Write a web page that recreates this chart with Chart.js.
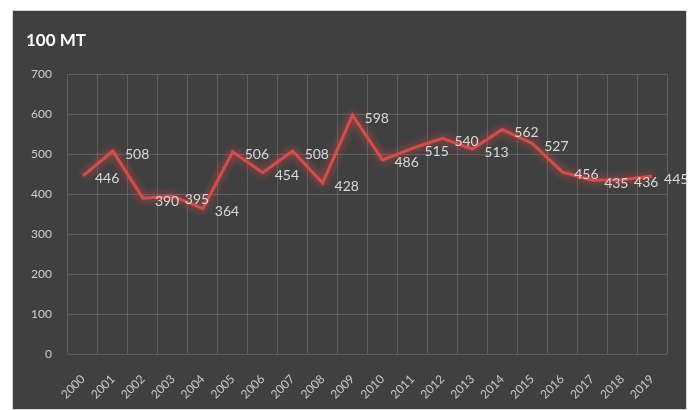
<!DOCTYPE html>
<html>
<head>
<meta charset="utf-8">
<script src="https://cdn.jsdelivr.net/npm/chart.js@4/dist/chart.umd.min.js"></script>
<style>
  body { margin: 0; background: #fff; width: 689px; height: 410px; overflow: hidden; }
  #box { position: absolute; left: 12px; top: 10px; width: 675px; height: 400px; background: #404040; border: 1px solid #d8d8d8; box-sizing: border-box; }
</style>
</head>
<body>
<div id="box"><canvas id="grafico"></canvas></div>
<script>
// dados
var anos = ["2000","2001","2002","2003","2004","2005","2006","2007","2008","2009",
            "2010","2011","2012","2013","2014","2015","2016","2017","2018","2019"];
var valores = [446, 508, 390, 395, 364, 506, 454, 508, 428, 598,
               486, 515, 540, 513, 562, 527, 456, 435, 436, 445];
var titulo = "100 MT";
var y_min = 0, y_max = 700, y_passo = 100;

// brilho vermelho na linha
var brilho = {
    id: "brilho",
    beforeDatasetsDraw: function(chart){
        var c = chart.ctx;
        c.save();
        c.shadowColor = "rgba(255,70,70,0.9)";
        c.shadowBlur = 9;
    },
    afterDatasetsDraw: function(chart){
        chart.ctx.restore();
    }
};

// rotulos dos valores, a direita de cada ponto
var rotulos = {
    id: "rotulos",
    afterDatasetsDraw: function(chart){
        var c = chart.ctx;
        var meta = chart.getDatasetMeta(0);
        c.save();
        c.font = "14px Lato";
        c.fillStyle = "#d9d9d9";
        c.textAlign = "left";
        c.textBaseline = "middle";
        meta.data.forEach(function(p, i){
            c.fillText(String(valores[i]), p.x + 12, p.y + 3);
        });
        c.restore();
    }
};

var ctx = document.getElementById("grafico").getContext("2d");
var grafico = new Chart(ctx, {
    type: "line",
    data: {
        labels: anos,
        datasets: [{
            data: valores,
            borderColor: "#cf4f4f",
            borderWidth: 3,
            pointRadius: 0,
            tension: 0,
            fill: false
        }]
    },
    options: {
        responsive: true,
        maintainAspectRatio: false,
        animation: false,
        layout: { padding: { left: 13, right: 19, top: 0, bottom: 0 } },
        plugins: {
            legend: { display: false },
            tooltip: { enabled: false },
            title: {
                display: true,
                text: titulo,
                align: "start",
                color: "#ffffff",
                font: { family: "Lato", size: 17, weight: "bold" },
                padding: { top: 19, bottom: 24 }
            }
        },
        scales: {
            x: {
                offset: true,
                grid: { color: "rgba(255,255,255,0.16)", offset: true, drawTicks: false },
                border: { display: false },
                ticks: {
                    color: "#c8c8c8",
                    font: { family: "Lato", size: 12 },
                    minRotation: 45,
                    maxRotation: 45,
                    padding: 18,
                    autoSkip: false
                },
                afterFit: function(s){ s.height = 55; }
            },
            y: {
                min: y_min,
                max: y_max,
                grid: { color: "rgba(255,255,255,0.16)", drawTicks: false },
                border: { display: false },
                ticks: {
                    stepSize: y_passo,
                    color: "#d0d0d0",
                    font: { family: "Lato", size: 12 },
                    padding: 16
                },
                afterFit: function(s){ s.width = 42; }
            }
        }
    },
    plugins: [brilho, rotulos]
});
</script>
</body>
</html>
